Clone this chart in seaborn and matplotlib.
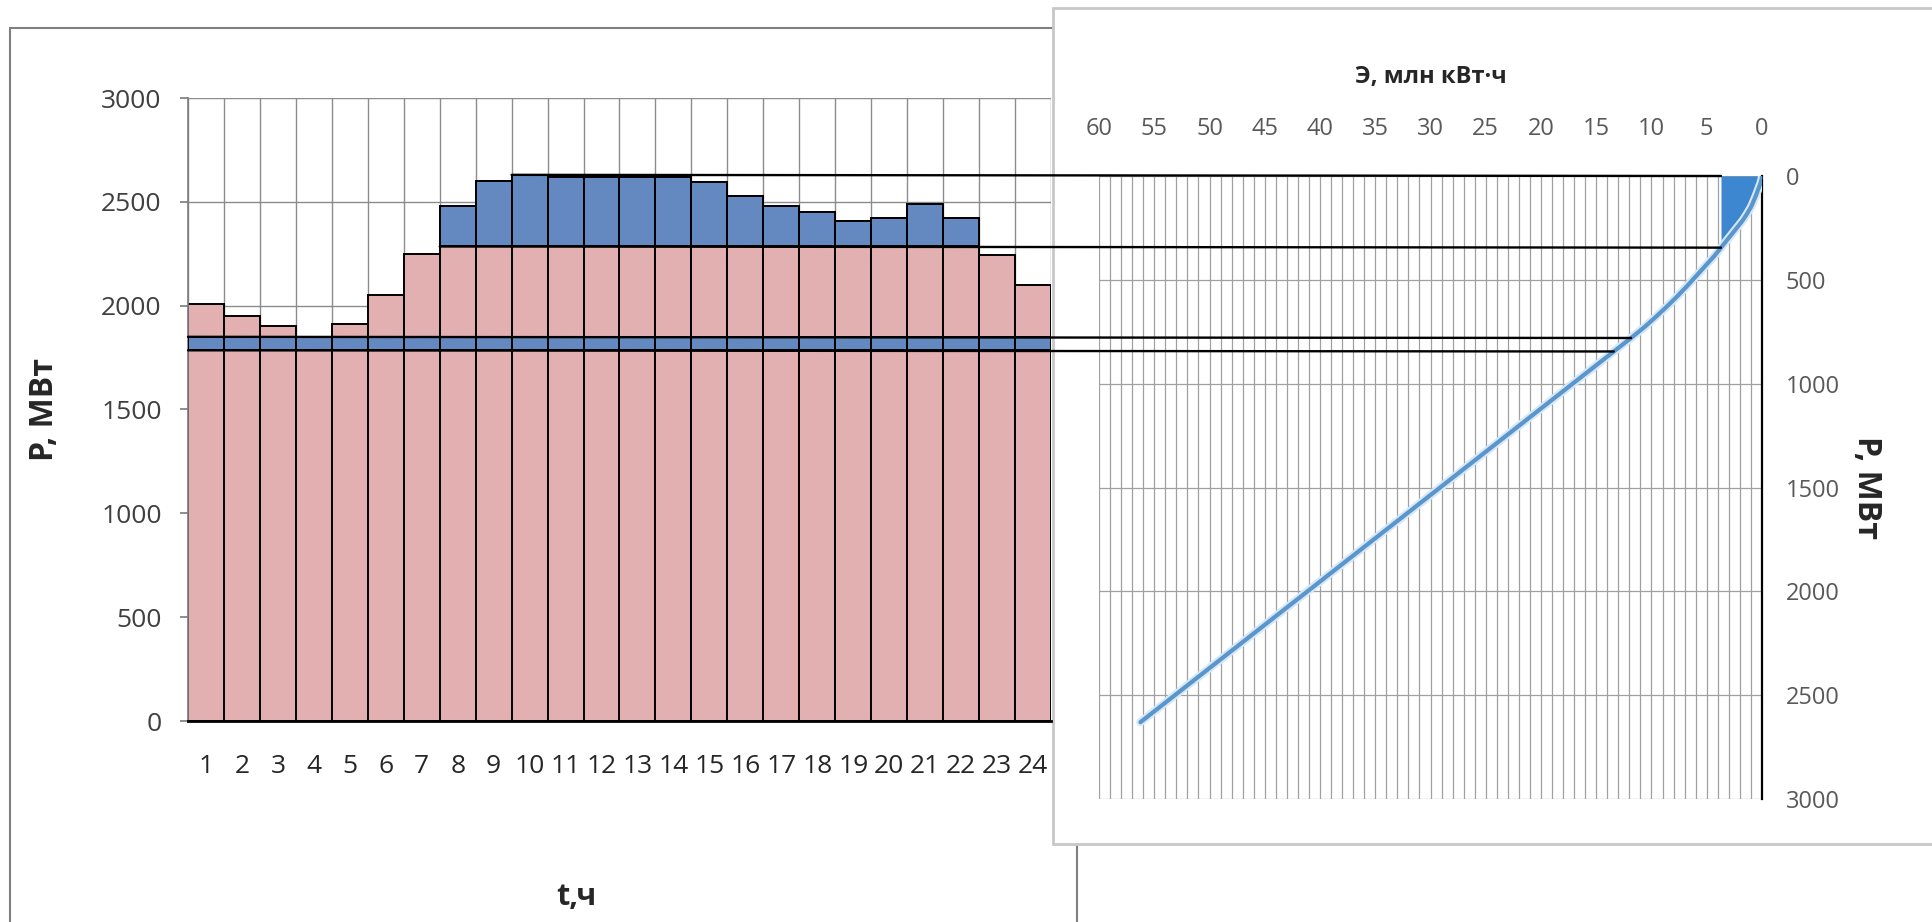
import numpy as np
import pandas as pd
import seaborn as sns
import matplotlib.pyplot as plt
import matplotlib.patheffects as pe
from matplotlib.patches import Rectangle, ConnectionPatch

# Hourly load of the day, MW
hours = list(range(1, 25))
load_mw = [2010, 1950, 1900, 1850, 1910, 2050, 2250, 2480, 2600, 2630, 2620, 2620,
           2620, 2620, 2595, 2530, 2480, 2450, 2410, 2420, 2490, 2420, 2245, 2100]
base_level = 2285            # top of the base (pink) part, MW
band_levels = [1785, 1850]   # blue strip across the whole day, MW
p_ticks = [0, 500, 1000, 1500, 2000, 2500, 3000]
e_ticks = list(range(0, 61, 5))

pink = "#E2B0B0"
blue = "#6489C0"
fill_blue = "#3D87D0"
curve_col = "#5A95CC"

sns.set_theme(style="white")
plt.rcParams["font.family"] = ["Open Sans", "DejaVu Sans"]

W, H = 1932, 922
fig = plt.figure(figsize=(W / 100, H / 100), dpi=100)


def box(x0, y0, x1, y1):
    """Pixel box (top-left origin) -> figure-fraction rect."""
    return [x0 / W, 1 - y1 / H, (x1 - x0) / W, (y1 - y0) / H]


# chart frames
fig.patches.append(Rectangle((10 / W, -0.02), (1077 - 10) / W, 1.02 - 28 / H,
                             transform=fig.transFigure, fill=False,
                             edgecolor="#808080", lw=1.5, zorder=0.1))
fig.patches.append(Rectangle((1053 / W, 1 - 844 / H), (W + 20 - 1053) / W, (844 - 8) / H,
                             transform=fig.transFigure, facecolor="white",
                             edgecolor="#c8c8c8", lw=2, zorder=0.2))

axL = fig.add_axes(box(188, 98, 1051, 721))
axR = fig.add_axes(box(1099, 176, 1762, 799))
axL.set_zorder(1)
axR.set_zorder(1)

# ---------- daily load graph ----------
load = np.array(load_mw, dtype=float)
pos = np.arange(len(hours))
df = pd.DataFrame({"hour": hours, "load": load_mw})

sns.barplot(data=df, x="hour", y="load", color=pink, saturation=1, width=1.0,
            edgecolor="black", linewidth=1.4, ax=axL, zorder=2)

peak = np.clip(load - base_level, 0, None)
has_peak = peak > 0
axL.bar(pos[has_peak], peak[has_peak], bottom=base_level, width=1.0,
        color=blue, edgecolor="black", linewidth=1.4, zorder=3)
axL.bar(pos, band_levels[1] - band_levels[0], bottom=band_levels[0], width=1.0,
        color=blue, edgecolor="black", linewidth=1.4, zorder=3)

axL.set_xlim(-0.5, len(hours) - 0.5)
axL.set_ylim(0, 3000)
axL.set_yticks(p_ticks)
axL.set_xticks(np.arange(-0.5, len(hours), 1.0), minor=True)
axL.set_axisbelow(True)
axL.grid(axis="y", which="major", color="#8c8c8c", lw=1.0)
axL.grid(axis="x", which="minor", color="#8c8c8c", lw=1.0)
axL.grid(axis="x", which="major", visible=False)
for s in ("top", "right"):
    axL.spines[s].set_visible(False)
axL.spines["left"].set_color("#808080")
axL.spines["bottom"].set_color("black")
axL.spines["bottom"].set_linewidth(2)
axL.tick_params(axis="y", left=True, length=6, color="#808080", pad=13,
                labelsize=19, labelcolor="#404040")
axL.tick_params(axis="x", which="both", bottom=False, length=0, pad=24,
                labelsize=19, labelcolor="#262626")
axL.set_xlabel("t,ч", fontsize=22, fontweight="bold", color="#262626")
axL.xaxis.set_label_coords(0.45, -0.258)
axL.set_ylabel("P, МВт", fontsize=23, fontweight="bold", color="#262626",
               rotation=90, va="center", ha="center")
axL.yaxis.set_label_coords(-0.166, 0.5)

# ---------- integral load curve ----------
p_max = load.max()


def energy_above(level):
    """Energy of the day lying above a power level, mln kWh."""
    return np.clip(load - level, 0, None).sum() / 1000.0


levels = np.unique(np.r_[0.0, load, base_level, band_levels])
depth = p_max - levels                 # measured down from the peak
keep = depth >= 0
depth = depth[keep]
energy = np.array([energy_above(l) for l in levels[keep]])
order = np.argsort(depth)
depth, energy = depth[order], energy[order]

e_base = energy_above(base_level)
sel = depth <= p_max - base_level
axR.fill_betweenx(depth[sel], energy[sel], e_base, color=fill_blue, lw=0, zorder=3)

sns.lineplot(x=energy, y=depth, sort=False, estimator=None, color=curve_col,
             lw=3.0, ax=axR, zorder=4,
             path_effects=[pe.Stroke(linewidth=6, foreground="#d6e8f7"), pe.Normal()])

axR.set_xlim(60, 0)
axR.set_ylim(3000, 0)
axR.xaxis.tick_top()
axR.yaxis.tick_right()
axR.set_xticks(e_ticks)
axR.set_xticks(np.arange(0, 61, 1), minor=True)
axR.set_yticks(p_ticks)
axR.grid(axis="x", which="both", color="#a0a0a0", lw=0.9)
axR.grid(axis="y", which="major", color="#a0a0a0", lw=0.9)
axR.set_axisbelow(True)
for s in ("top", "left", "bottom"):
    axR.spines[s].set_visible(False)
axR.spines["right"].set_color("black")
axR.spines["right"].set_linewidth(1.6)
axR.tick_params(axis="x", which="both", top=False, bottom=False, length=0, pad=25,
                labelsize=17, labelcolor="#595959")
axR.tick_params(axis="y", right=False, left=False, length=0, pad=17,
                labelsize=17, labelcolor="#595959")
axR.xaxis.set_label_position("top")
axR.set_xlabel("Э, млн кВт·ч", fontsize=17, fontweight="bold", color="#262626")
axR.xaxis.set_label_coords(0.5, 1.149)
axR.yaxis.set_label_position("right")
axR.set_ylabel("P, МВт", fontsize=23, fontweight="bold", color="#262626",
               rotation=-90, va="center", ha="center")
axR.yaxis.set_label_coords(1.158, 0.5)


# ---------- projection lines between the two graphs ----------
def link(x_hour, level, x_energy):
    con = ConnectionPatch(xyA=(x_hour, level), coordsA=axL.transData,
                          xyB=(x_energy, p_max - level), coordsB=axR.transData,
                          color="black", lw=1.7, zorder=6)
    fig.add_artist(con)


peak_hour = int(np.argmax(load))
first_above_base = int(np.argmax(load > base_level))
link(peak_hour - 0.5, p_max, e_base)
link(first_above_base - 0.5, base_level, e_base)
link(-0.5, band_levels[1], energy_above(band_levels[1]))
link(-0.5, band_levels[0], energy_above(band_levels[0]))

fig.savefig("out.png", dpi=100, facecolor="white")
